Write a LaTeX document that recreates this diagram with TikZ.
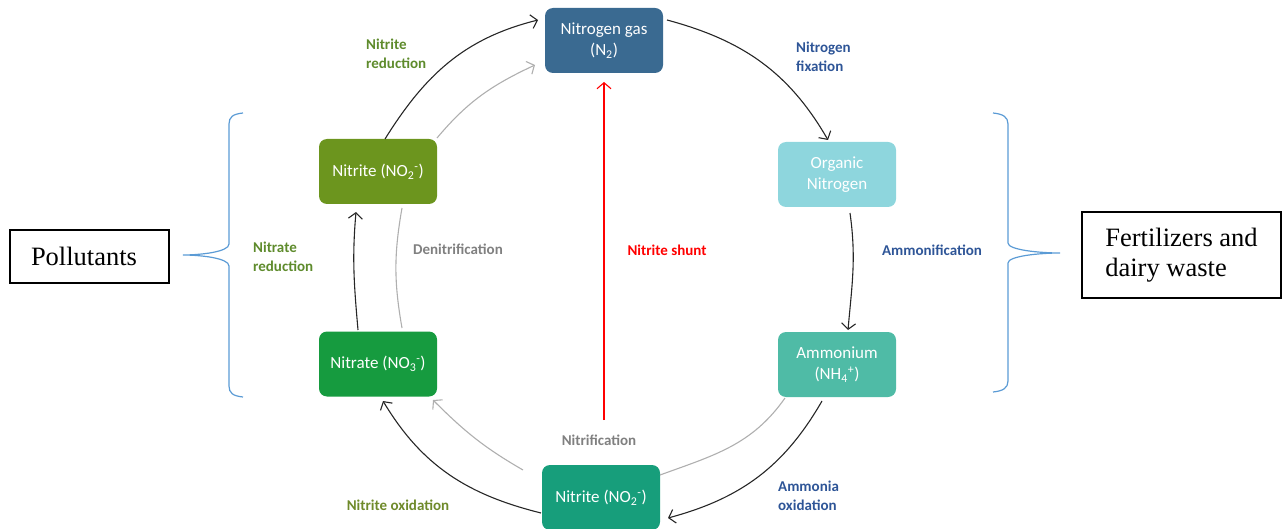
\documentclass[tikz,border=0pt]{standalone}
\usepackage{fontspec}
\setmainfont{Carlito}
\newfontfamily\tnr{Liberation Serif}
\usetikzlibrary{arrows.meta,calc}
\definecolor{cN2}{RGB}{58,106,145}
\definecolor{cOrg}{RGB}{142,214,221}
\definecolor{cAmm}{RGB}{79,187,166}
\definecolor{cNb}{RGB}{23,158,123}
\definecolor{cNat}{RGB}{22,155,63}
\definecolor{cNit}{RGB}{108,149,30}
\definecolor{lGreen}{RGB}{94,139,44}
\definecolor{lOlive}{RGB}{111,138,42}
\definecolor{lBlue}{RGB}{46,85,151}
\definecolor{lGray}{RGB}{128,128,128}
\definecolor{brace}{RGB}{91,155,213}
\definecolor{gline}{RGB}{175,175,175}
\tikzset{
  box/.style={rounded corners=8pt, minimum width=118pt, minimum height=65pt,
    text=white, align=center, inner sep=0pt,
    font=\fontsize{17}{21}\selectfont},
  lab/.style={font=\bfseries\fontsize{15}{19}\selectfont, align=left, inner sep=0pt},
  arr/.style={draw=black!85, line width=1.1pt, -{Straight Barb[length=6pt,width=14pt]}},
  garr/.style={draw=gline, line width=1.1pt, -{Straight Barb[length=6pt,width=14pt]}},
  gline/.style={draw=gline, line width=1.1pt},
  txtbox/.style={draw=black, line width=1.5pt, font=\tnr\fontsize{26.5}{30}\selectfont, align=left, anchor=north west, outer sep=0pt},
  bracepath/.style={draw=brace, line width=1.2pt},
}
\begin{document}
\begin{tikzpicture}[x=1pt,y=-1pt]
\useasboundingbox (0,0) rectangle (1287,529);
% nodes
\node[box, fill=cN2] (n2) at (604,40.5) {Nitrogen gas\\(N\textsubscript{2})};
\node[box, fill=cOrg] (org) at (837,174.5) {Organic\\Nitrogen};
\node[box, fill=cAmm] (amm) at (837,364.5) {Ammonium\\(NH\textsubscript{4}\textsuperscript{+})};
\node[box, fill=cNb] (nb) at (601,497.5) {Nitrite (NO\textsubscript{2}\textsuperscript{-})};
\node[box, fill=cNat] (nat) at (378,364) {Nitrate (NO\textsubscript{3}\textsuperscript{-})};
\node[box, fill=cNit] (nit) at (378,171.5) {Nitrite (NO\textsubscript{2}\textsuperscript{-})};
\coordinate (shunt) at (604,420);
% text boxes
\node[txtbox, minimum width=159pt, minimum height=53pt, text width=117pt, inner xsep=21pt, inner ysep=0pt] (pol) at (10,230) {Pollutants};
\node[txtbox, minimum width=199pt, minimum height=86pt, inner xsep=21pt, inner ysep=12pt] (fert) at (1082,212) {Fertilizers and\\dairy waste};
% connectors
\draw[arr] ($(n2)+(63,-20.5)$) to[out=-15,in=120] ($(org)+(-9,-34.5)$);
\draw[arr] ($(org)+(13,38.5)$) to[out=-82,in=85] ($(amm)+(11,-34.5)$);
\draw[arr] ($(amm)+(-15,36.5)$) to[out=-120,in=15] ($(nb)+(67,20.5)$);
\draw[gline] ($(amm)+(-52,33.5)$) to[out=-125,in=20] ($(nb)+(59,-22.5)$);
\draw[arr] ($(nb)+(-60,15.5)$) to[out=166,in=-59] ($(nat)+(5,37)$);
\draw[garr] ($(nb)+(-78,-27.5)$) to[out=150,in=-45] ($(nat)+(55,36)$);
\draw[arr] ($(nat)+(-20,-34)$) to[out=95,in=-95] ($(nit)+(-22,40.5)$);
\draw[gline] ($(nat)+(24,-36)$) to[out=100,in=-100] ($(nit)+(24,36.5)$);
\draw[arr] ($(nit)+(7,-32.5)$) to[out=58,in=-166] ($(n2)+(-66,-20.5)$);
\draw[garr] ($(nit)+(59,-33.5)$) to[out=50,in=-155] ($(n2)+(-69,24.5)$);
\draw[draw=red, line width=1.1pt, -{Straight Barb[length=6pt,width=14pt]}] (shunt) -- ($(n2)+(0,41.5)$);
% labels
\node[lab, text=lGreen, anchor=west] (l1) at (366,54) {Nitrite\\reduction};
\node[lab, text=lBlue, anchor=west] (l2) at (796,56.5) {Nitrogen\\fixation};
\node[lab, text=lBlue] (l3) at (932,250) {Ammonification};
\node[lab, text=lBlue, anchor=west] (l4) at (778,495.5) {Ammonia\\oxidation};
\node[lab, text=lOlive] (l5) at (398,505) {Nitrite oxidation};
\node[lab, text=lGray] (l6) at (599,440) {Nitrification};
\node[lab, text=red] (l7) at (667,250) {Nitrite shunt};
\node[lab, text=lGray] (l8) at (458,249) {Denitrification};
\node[lab, text=lGreen, anchor=west] (l9) at (253,256.5) {Nitrate\\reduction};
% braces
\draw[bracepath] (243,113) .. controls (233,114) and (229,117) .. (229,124)
  -- (229,244) .. controls (229,252) and (200,255) .. (183,255)
  .. controls (200,255) and (229,258) .. (229,266)
  -- (229,386) .. controls (229,393) and (233,396) .. (243,397);
\draw[bracepath] (993,113) .. controls (1003,114) and (1008,117) .. (1008,124)
  -- (1008,243) .. controls (1008,250) and (1040,253) .. (1060,253)
  .. controls (1040,253) and (1008,256) .. (1008,263)
  -- (1008,381) .. controls (1008,388) and (1003,391) .. (993,392);
\end{tikzpicture}
\end{document}
